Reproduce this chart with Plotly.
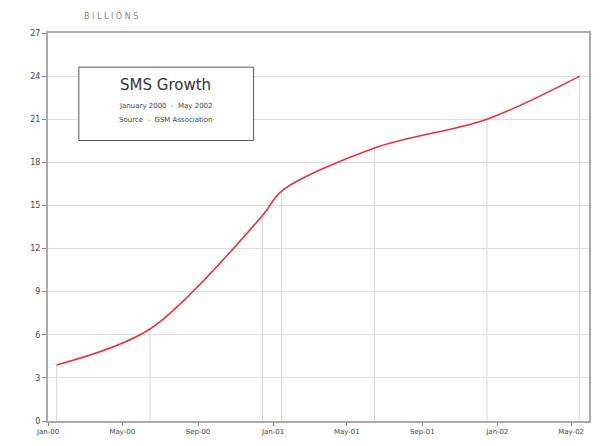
import plotly.graph_objects as go

dates = ["2000-01-15", "2000-06-15", "2000-12-15", "2001-01-15",
         "2001-06-15", "2001-12-15", "2002-05-15"]
sms_billions = [3.9, 6.4, 14.3, 16.0, 19.0, 21.0, 24.0]

tick_dates = ["2000-01-01", "2000-05-01", "2000-09-01", "2001-01-01",
              "2001-05-01", "2001-09-01", "2002-01-01", "2002-05-01"]
tick_labels = ["Jan-00", "May-00", "Sep-00", "Jan-01",
               "May-01", "Sep-01", "Jan-02", "May-02"]
y_ticks = [0, 3, 6, 9, 12, 15, 18, 21, 24, 27]

fig = go.Figure()
fig.add_trace(go.Scatter(
    x=dates, y=sms_billions, mode="lines",
    line=dict(color="#e8323c", width=1.6, shape="spline", smoothing=0.9),
    hoverinfo="x+y", showlegend=False,
))

# vertical gridlines at data points
for d, v in zip(dates, sms_billions):
    fig.add_shape(type="line", xref="x", yref="y", x0=d, x1=d, y0=0, y1=v,
                  line=dict(color="#d6d6d6", width=1), layer="below")

fig.add_shape(type="rect", xref="paper", yref="paper",
              x0=0.057, x1=0.380, y0=0.723, y1=0.912,
              line=dict(color="#555555", width=1), fillcolor="white")
fig.add_annotation(xref="paper", yref="paper", x=0.218, y=0.895,
                   xanchor="center", yanchor="top",
                   text="SMS Growth", showarrow=False,
                   font=dict(family="DejaVu Sans", size=15, color="#333333"))
fig.add_annotation(xref="paper", yref="paper", x=0.218, y=0.828,
                   xanchor="center", yanchor="top",
                   text="January 2000  -  May 2002", showarrow=False,
                   font=dict(family="DejaVu Sans", size=7, color="#444444"))
fig.add_annotation(xref="paper", yref="paper", x=0.218, y=0.790,
                   xanchor="center", yanchor="top",
                   text="Source  -  GSM Association", showarrow=False,
                   font=dict(family="DejaVu Sans", size=7, color="#444444"))
fig.add_annotation(xref="paper", yref="paper", x=0.063, y=1.025,
                   xanchor="left", yanchor="bottom",
                   text="B I L L I O N S", showarrow=False,
                   font=dict(family="DejaVu Sans", size=8, color="#888888"))

fig.update_layout(
    width=601, height=446,
    margin=dict(l=48, r=10, t=33, b=22),
    paper_bgcolor="white", plot_bgcolor="white",
    font=dict(family="DejaVu Sans", size=8, color="#555555"),
    xaxis=dict(
        type="date", range=["2000-01-01", "2002-05-30"],
        tickvals=tick_dates, ticktext=tick_labels,
        showgrid=False, zeroline=False,
        showline=True, linecolor="#aaaaaa", linewidth=2, mirror=True,
        ticks="outside", ticklen=3, tickcolor="#888888",
        tickfont=dict(size=7, color="#444444"), fixedrange=True,
    ),
    yaxis=dict(
        range=[0, 27], tickvals=y_ticks,
        showgrid=True, gridcolor="#dedede", gridwidth=1, zeroline=False,
        showline=True, linecolor="#aaaaaa", linewidth=2, mirror=True,
        ticks="outside", ticklen=4, tickcolor="#888888",
        tickfont=dict(size=8, color="#444444"), fixedrange=True,
    ),
)

fig.write_html("out.html")
